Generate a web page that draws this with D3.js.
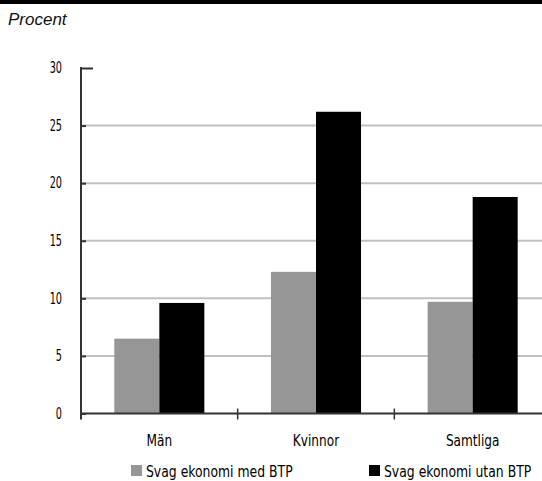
<!DOCTYPE html>
<html>
<head>
<meta charset="utf-8">
<script src="https://cdn.jsdelivr.net/npm/d3@7"></script>
<style>
  html, body { margin: 0; padding: 0; background: #fff; }
  svg { display: block; }
</style>
</head>
<body>
<svg id="chart" width="542" height="481"></svg>
<script>
const categories = ["Män", "Kvinnor", "Samtliga"];
const seriesNames = ["Svag ekonomi med BTP", "Svag ekonomi utan BTP"];
const medBTP = [6.5, 12.3, 9.7];
const utanBTP = [9.6, 26.2, 18.8];
const yTicks = [0, 5, 10, 15, 20, 25, 30];
const colors = ["#969696", "#000000"];

(function () {
const svg = d3.select("#chart");
const W = 542, H = 481;
const condensed = "'DejaVu Sans Condensed', 'Liberation Sans Narrow', sans-serif";

// squeeze text horizontally to mimic a condensed typeface
function condense(sel, k) {
  sel.each(function () {
    const t = d3.select(this);
    const x = +(t.attr("x") || 0);
    t.attr("x", x / k).attr("transform", `scale(${k},1)`);
  });
}

// top black rule
svg.append("rect").attr("x", 0).attr("y", 0).attr("width", W).attr("height", 4).attr("fill", "#000");

svg.append("text")
  .attr("x", 8).attr("y", 25)
  .attr("font-family", "'Liberation Sans', Arial, sans-serif")
  .attr("font-style", "italic")
  .attr("font-size", 17)
  .attr("fill", "#111")
  .text("Procent");

const pLeft = 81, pRight = 551, pTop = 68, pBottom = 413.5;

const y = d3.scaleLinear().domain([0, 30]).range([pBottom, pTop]);
const x0 = d3.scaleBand().domain(categories).range([pLeft, pRight]).padding(0);
const x1 = d3.scaleBand().domain(seriesNames).range([0, x0.bandwidth()]).paddingInner(0).paddingOuter(0.74);

// gridlines
svg.append("g").selectAll("line")
  .data(yTicks.filter(d => d > 0 && d < 30))
  .join("line")
  .attr("x1", pLeft).attr("x2", W)
  .attr("y1", d => y(d)).attr("y2", d => y(d))
  .attr("stroke", "#c0c0c0").attr("stroke-width", 2);

// bars
const data = categories.map((c, i) => ({ cat: c, vals: [medBTP[i], utanBTP[i]] }));
const groups = svg.append("g").selectAll("g")
  .data(data).join("g")
  .attr("transform", d => `translate(${x0(d.cat)},0)`);
groups.selectAll("rect")
  .data(d => d.vals.map((v, j) => ({ s: seriesNames[j], v, j })))
  .join("rect")
  .attr("x", d => x1(d.s))
  .attr("width", x1.bandwidth())
  .attr("y", d => y(d.v))
  .attr("height", d => pBottom - y(d.v))
  .attr("fill", d => colors[d.j]);

// y axis
const yAxis = d3.axisLeft(y).tickValues(yTicks).tickSize(-5).tickPadding(19).tickSizeOuter(0);
const gy = svg.append("g").attr("transform", `translate(${pLeft},0)`).call(yAxis);
gy.select(".domain").remove();
gy.selectAll(".tick line").attr("stroke", "#333").attr("stroke-width", 2);
gy.selectAll(".tick text").attr("font-family", condensed).attr("font-size", 15).attr("fill", "#000");
condense(gy.selectAll(".tick text"), 0.72);
gy.selectAll(".tick").filter(d => d === 30).select("line").attr("x2", 12);
svg.append("line").attr("x1", pLeft).attr("x2", pLeft).attr("y1", pTop - 1).attr("y2", pBottom + 6)
  .attr("stroke", "#333").attr("stroke-width", 2);

// x axis
const xAxis = d3.axisBottom(x0).tickSize(0).tickPadding(22);
const gx = svg.append("g").attr("transform", `translate(0,${pBottom})`).call(xAxis);
gx.select(".domain").remove();
gx.selectAll(".tick text").attr("font-family", condensed).attr("font-size", 15).attr("fill", "#000").attr("dy", "0.71em");
condense(gx.selectAll(".tick text"), 0.9);
svg.append("line").attr("x1", pLeft).attr("x2", W).attr("y1", pBottom).attr("y2", pBottom)
  .attr("stroke", "#333").attr("stroke-width", 2);
// category separator ticks
svg.append("g").selectAll("line")
  .data(categories.slice(1))
  .join("line")
  .attr("x1", d => x0(d)).attr("x2", d => x0(d))
  .attr("y1", pBottom - 5).attr("y2", pBottom + 6)
  .attr("stroke", "#333").attr("stroke-width", 1.5);

// legend
const legendX = [131, 369];
const lg = svg.append("g").selectAll("g")
  .data(seriesNames).join("g")
  .attr("transform", (d, i) => `translate(${legendX[i]},465)`);
lg.append("rect").attr("width", 11).attr("height", 11).attr("fill", (d, i) => colors[i]);
const lt = lg.append("text").attr("x", 15).attr("y", 11.5)
  .attr("font-family", condensed).attr("font-size", 15).attr("fill", "#000")
  .text(d => d);
condense(lt, 0.92);
})();
</script>
</body>
</html>
